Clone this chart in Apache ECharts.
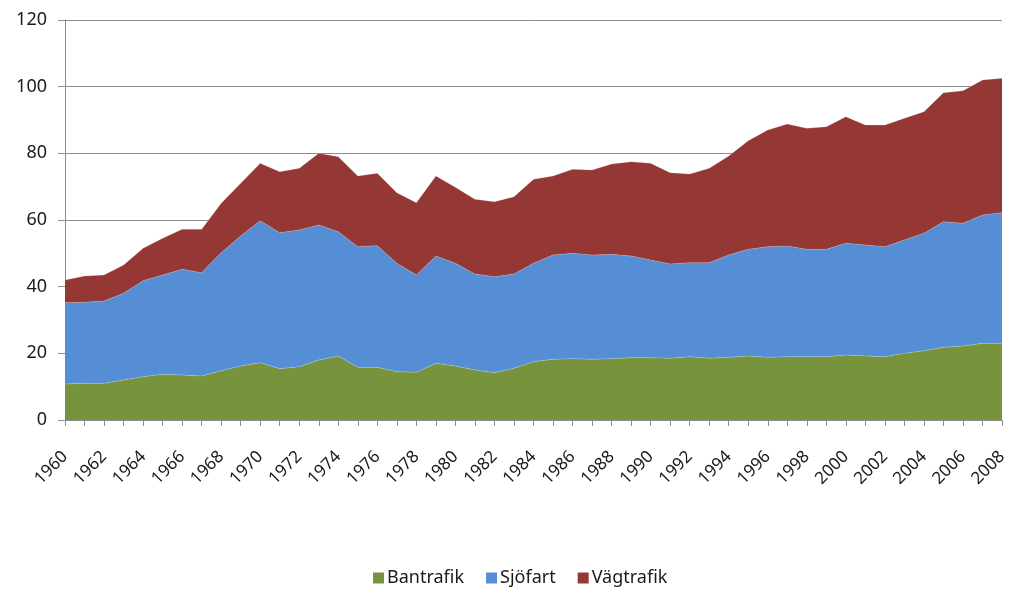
<!DOCTYPE html>
<html>
<head>
<meta charset="utf-8">
<script src="https://cdn.jsdelivr.net/npm/echarts@6/dist/echarts.min.js"></script>
<style>html,body{margin:0;padding:0;background:#fff}#c{width:1011px;height:596px}</style>
</head>
<body>
<div id="c"></div>
<script>
const years = [];
for (let y = 1960; y <= 2008; y++) years.push(String(y));

// Cumulative tops
const bantrafik = [10.8,11.0,11.0,12.0,13.0,13.7,13.5,13.2,14.8,16.2,17.2,15.4,16.0,18.0,19.2,15.8,15.8,14.5,14.3,17.0,16.2,15.0,14.2,15.5,17.5,18.2,18.4,18.2,18.4,18.7,18.7,18.5,19.0,18.5,18.8,19.2,18.8,19.0,19.0,19.0,19.5,19.2,19.0,20.0,20.8,21.8,22.2,23.0,23.0];
const sjofartTop = [35.2,35.3,35.7,38.0,41.8,43.5,45.2,44.2,50.2,55.2,59.8,56.2,57.0,58.5,56.5,52.0,52.3,47.0,43.5,49.2,47.0,43.8,43.0,43.8,47.0,49.5,50.0,49.5,49.7,49.2,48.0,46.8,47.2,47.2,49.5,51.2,52.0,52.2,51.2,51.2,53.0,52.5,52.0,54.0,56.0,59.5,59.0,61.5,62.2];
const totalTop = [42.0,43.2,43.5,46.5,51.5,54.5,57.2,57.2,65.0,71.0,77.0,74.5,75.5,80.0,79.0,73.2,74.0,68.2,65.2,73.2,69.8,66.2,65.5,67.0,72.2,73.2,75.2,75.0,76.8,77.5,77.0,74.2,73.8,75.5,79.2,83.8,87.0,88.8,87.5,88.0,91.0,88.5,88.5,90.5,92.5,98.2,98.8,102.0,102.5];

const sjofart = sjofartTop.map((v, i) => +(v - bantrafik[i]).toFixed(1));
const vagtrafik = totalTop.map((v, i) => +(v - sjofartTop[i]).toFixed(1));

const yTicks = [0, 20, 40, 60, 80, 100, 120];
const seriesNames = ['Bantrafik', 'Sjöfart', 'Vägtrafik'];
const colors = ['#77933C', '#558ED5', '#953735'];

const font = 'Noto Sans';
const chart = echarts.init(document.getElementById('c'), null, {renderer: 'canvas'});
const mk = (name, data, color) => ({
  name, type: 'line', stack: 'total', data,
  showSymbol: false, symbol: 'none',
  lineStyle: {width: 0.6, color: 'rgba(255,255,255,0.35)'},
  areaStyle: {color, opacity: 1},
  itemStyle: {color},
  emphasis: {disabled: true}
});
chart.setOption({
  animation: false,
  color: colors,
  grid: {left: 65, right: 9, top: 20, bottom: 176, containLabel: false},
  legend: {
    bottom: 4, left: 368,
    itemWidth: 11, itemHeight: 11, itemGap: 22, itemStyle: {borderWidth: 0},
    icon: 'rect',
    textStyle: {fontFamily: font, fontSize: 18, color: '#1a1a1a', padding: [0, 0, 0, -2]},
    data: seriesNames
  },
  xAxis: {
    type: 'category', data: years, boundaryGap: false,
    axisLine: {lineStyle: {color: '#8c8c8c', width: 1}},
    axisTick: {show: true, interval: 0, length: 6, lineStyle: {color: '#8c8c8c'}},
    axisLabel: {interval: 1, rotate: 45, margin: 34, fontFamily: font, fontSize: 17, color: '#1a1a1a'},
    splitLine: {show: false}
  },
  yAxis: {
    type: 'value', min: yTicks[0], max: yTicks[yTicks.length - 1], interval: 20,
    axisLine: {show: true, lineStyle: {color: '#8c8c8c'}},
    axisTick: {show: true, length: 7, lineStyle: {color: '#8c8c8c'}},
    axisLabel: {margin: 18, fontFamily: font, fontSize: 18, color: '#1a1a1a'},
    splitLine: {lineStyle: {color: '#8c8c8c', width: 1}}
  },
  series: [
    mk(seriesNames[0], bantrafik, colors[0]),
    mk(seriesNames[1], sjofart, colors[1]),
    mk(seriesNames[2], vagtrafik, colors[2])
  ]
});
</script>
</body>
</html>
